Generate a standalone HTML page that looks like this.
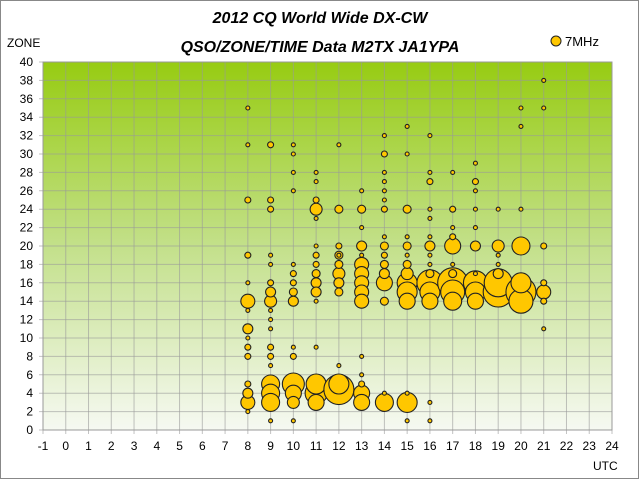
<!DOCTYPE html>
<html><head><meta charset="utf-8"><style>
body{margin:0;background:#fff;}
svg{display:block;font-family:"Liberation Sans",sans-serif;}
</style></head><body>
<svg id="s" width="640" height="480" xmlns="http://www.w3.org/2000/svg">
<defs><linearGradient id="g" x1="0" y1="0" x2="0" y2="1">
<stop offset="0" stop-color="#97cc12"/><stop offset="0.5" stop-color="#c3e08a"/><stop offset="1" stop-color="#f6f9f2"/></linearGradient></defs>
<rect x="0.5" y="0.5" width="638" height="478" fill="#fff" stroke="#888"/>
<text x="320" y="23" text-anchor="middle" font-size="16" font-weight="bold" font-style="italic">2012 CQ World Wide DX-CW</text>
<text x="320" y="52" text-anchor="middle" font-size="16" font-weight="bold" font-style="italic">QSO/ZONE/TIME Data M2TX JA1YPA</text>
<text x="7" y="47" font-size="12">ZONE</text>
<circle cx="556" cy="41" r="5" fill="#ffc700" stroke="#222"/>
<text x="565" y="46" font-size="13">7MHz</text>
<text x="593" y="470" font-size="12">UTC</text>
<rect x="43" y="62" width="569" height="368" fill="url(#g)"/>
<g id="grid"></g>
<g id="pts"></g>
</svg>
<script>
var X=function(v){return 43+(v+1)*22.76},Y=function(v){return 430-v*9.2};
var s='',ns='http://www.w3.org/2000/svg';
for(var i=-1;i<=24;i++){var x=X(i);s+='<line x1="'+x+'" y1="62" x2="'+x+'" y2="434" stroke="#9a9a9a" stroke-opacity="0.6"/>';
s+='<text x="'+x+'" y="450" text-anchor="middle" font-size="12">'+i+'</text>';}
for(var j=0;j<=40;j+=2){var y=Y(j);s+='<line x1="39" y1="'+y+'" x2="612" y2="'+y+'" stroke="#9a9a9a" stroke-opacity="0.6"/>';
s+='<text x="33" y="'+(y+4)+'" text-anchor="end" font-size="12">'+j+'</text>';}
s+='<rect x="43" y="62" width="569" height="368" fill="none" stroke="#999"/>';
document.getElementById('grid').innerHTML=s;
var d={
8:[[35,2],[31,2],[25,3],[19,3],[16,2],[14,7],[13,2],[11,5],[10,2],[9,3],[8,3],[5,3],[4,5],[3,7],[2,2]],
9:[[31,3],[25,3],[24,3],[19,2],[18,2],[16,3],[15,5],[14,6],[13,2],[12,2],[11,2],[9,3],[8,3],[7,2],[5,9],[4,9],[3,9],[1,2]],
10:[[31,2],[30,2],[28,2],[26,2],[18,2],[17,3],[16,3],[15,4],[14,5],[9,2],[8,3],[5,11],[4,8],[3,6],[1,2]],
11:[[28,2],[27,2],[25,3],[24,6],[23,2],[20,2],[19,3],[18,3],[17,4],[16,5],[15,5],[14,2],[9,2],[5,10],[4,11],[3,8]],
12:[[31,2],[24,4],[20,3],[19,2],[19,4],[18,4],[17,6],[16,5],[15,4],[7,2],[5,10],[4.4,15]],
13:[[26,2],[24,4],[22,2],[20,5],[19,2],[18,7],[17,7],[16,7],[15,7],[14,7],[8,2],[6,2],[5,3],[4,8],[3,8]],
14:[[32,2],[30,3],[28,2],[27,2],[26,2],[25,2],[24,3],[21,2],[20,4],[19,3],[18,4],[17,5],[16,8],[14,4],[4,2],[3,9]],
15:[[33,2],[30,2],[24,4],[21,2],[20,4],[19,2],[18,4],[17,6],[16,10],[15,10],[14,8],[4,2],[3,10],[1,2]],
16:[[32,2],[28,2],[27,3],[24,2],[23,2],[21,2],[20,5],[19,2],[18,2],[17,4],[16,13],[15,10],[14,8],[3,2],[1,2]],
17:[[28,2],[24,3],[22,2],[21,3],[20,8],[18,2],[17,4],[16,15],[15,12],[14,9]],
18:[[29,2],[27,3],[26,2],[24,2],[22,2],[20,5],[17,2],[16,12],[15,10],[14,8]],
19:[[24,2],[20,6],[19,2],[18,2],[17,5],[16,14],[15,15]],
20:[[35,2],[33,2],[24,2],[20,9],[16,10],[15,15],[14,12]],
21:[[38,2],[35,2],[20,3],[16,3],[15,7],[14,3],[11,2]]};
var c='';
for(var h in d){var a=d[h].slice().sort(function(p,q){return q[1]-p[1]});
a.forEach(function(p){c+='<circle cx="'+X(+h)+'" cy="'+Y(p[0])+'" r="'+p[1]+'" fill="#ffc700" stroke="#222" stroke-width="1.1"/>';});}
document.getElementById('pts').innerHTML=c;
</script>
</body></html>
